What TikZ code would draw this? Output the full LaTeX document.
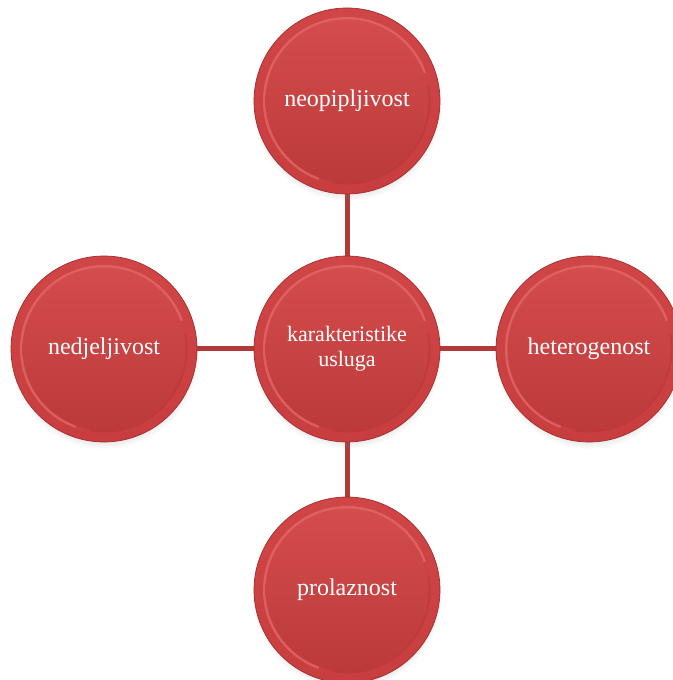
\documentclass[tikz,border=0pt]{standalone}
\usepackage{fontspec}
\setmainfont{Liberation Serif}
\usetikzlibrary{shadows,backgrounds}
\definecolor{beadred}{HTML}{CD3F3F}
\definecolor{beadtop}{HTML}{D04545}
\definecolor{beadbot}{HTML}{C83E3E}
\definecolor{beaddark}{HTML}{9A2A2C}
\definecolor{beadlight}{HTML}{EA7474}
\definecolor{linkred}{HTML}{B13A3B}
\tikzset{
  bead/.style={circle, minimum size=186pt, inner sep=0pt,
    top color=beadtop, bottom color=beadbot,
    draw=beaddark!85!beadred, line width=0.7pt, text=white, align=center,
    font=\fontsize{24}{28}\selectfont,
    circular drop shadow={shadow xshift=0pt, shadow yshift=-5pt, shadow scale=1.02, opacity=0.3},
    path picture={
      \draw[line width=3pt, draw=beadlight, draw opacity=0.6]
        (path picture bounding box.center) ++(20:82.5pt) arc (20:250:82.5pt);
      \draw[line width=2pt, draw=beaddark, draw opacity=0.25]
        (path picture bounding box.center) ++(260:82.5pt) arc (260:370:82.5pt);
      \shade[top color=beadtop!85!beadlight, bottom color=beadred!92!black]
        (path picture bounding box.center) circle (81.5pt);
    }},
  centerlabel/.style={font=\fontsize{22}{25}\selectfont},
  link/.style={draw=linkred, line width=5pt}
}
\begin{document}
\begin{tikzpicture}[x=1pt,y=1pt]
\useasboundingbox (0,0) rectangle (672,680);
\node[bead, centerlabel] (c) at (347,331) {karakteristike\\usluga};
\node[bead] (t) at (347,579) {neopipljivost};
\node[bead] (b) at (347,90) {prolaznost};
\node[bead] (l) at (104,331) {nedjeljivost};
\node[bead] (r) at (589,331) {heterogenost};
\begin{scope}[on background layer]
  \draw[link] (c) -- (t);
  \draw[link] (c) -- (b);
  \draw[link] (c) -- (l);
  \draw[link] (c) -- (r);
\end{scope}
\end{tikzpicture}
\end{document}
